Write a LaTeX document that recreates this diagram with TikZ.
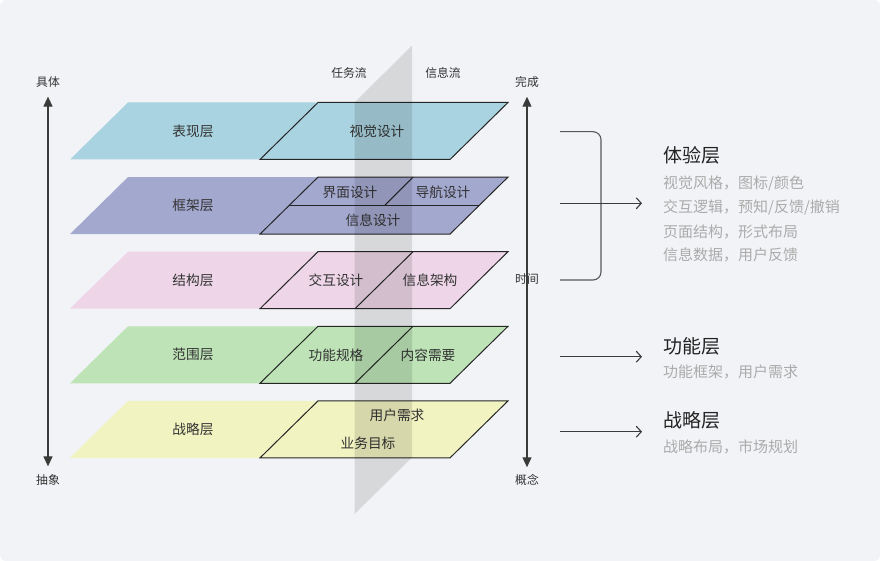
\documentclass[tikz,border=0pt]{standalone}
\usepackage{fontspec}
\setmainfont{Noto Sans CJK SC}
\usepackage{xcolor}
\usepackage{tikz}
\usetikzlibrary{positioning,arrows.meta}

\definecolor{bgcol}{HTML}{F2F3F6}
\definecolor{pblue}{HTML}{A9D3E0}
\definecolor{pviolet}{HTML}{A3A8CF}
\definecolor{ppink}{HTML}{EED6E8}
\definecolor{pgreen}{HTML}{BDE3B6}
\definecolor{pyellow}{HTML}{F1F3C1}
\definecolor{txtcol}{HTML}{333333}
\definecolor{ttlcol}{HTML}{222222}
\definecolor{desccol}{HTML}{ABABAB}
\definecolor{linecol}{HTML}{3A3A3A}

\begin{document}
\begin{tikzpicture}[x=1pt, y=-1pt,
  lbl/.style={font=\fontsize{13.7}{15}\selectfont, text=txtcol, inner sep=1pt},
  axlbl/.style={font=\fontsize{11.8}{13}\selectfont, text=txtcol, inner sep=2pt},
  ttl/.style={font=\fontsize{19}{21}\selectfont, text=ttlcol, anchor=west, inner sep=0pt},
  desc/.style={font=\fontsize{15}{17}\selectfont, text=desccol, anchor=west, inner sep=0pt},
  axis/.style={draw=linecol, line width=1.2pt,
    {Triangle[length=10pt,width=9pt]}-{Triangle[length=10pt,width=9pt]}},
  pointer/.style={draw=linecol, line width=1.1pt, -{Straight Barb[length=5pt,width=11pt]}},
  edge/.style={draw=black!85, line width=1pt}]

  \useasboundingbox (0,0) rectangle (880,561);
  \fill[white] (0,0) rectangle (880,561);
  \fill[bgcol, rounded corners=6pt] (0,0) rectangle (880,561);

  % the five layers
  \foreach \col/\nm/\id [count=\i from 0] in {pblue/表现层/surface, pviolet/框架层/skeleton,
      ppink/结构层/structure, pgreen/范围层/scope, pyellow/战略层/strategy}{
    \pgfmathsetmacro{\ytop}{102.5+74.6*\i}
    \pgfmathsetmacro{\ybot}{\ytop+57}
    \fill[\col] (70,\ybot) -- (128,\ytop) -- (508,\ytop) -- (450,\ybot) -- cycle;
    \draw[edge] (260,\ybot) -- (318,\ytop) -- (508,\ytop) -- (450,\ybot) -- cycle;
    \node[lbl] (\id) at (193,\ytop+28.5) {\nm};
  }

  % splits inside the layers
  \draw[edge] (289,205.6) -- (479,205.6);
  \draw[edge] (413,177.1) -- (384.5,205.6);
  \draw[edge] (413,251.7) -- (355,308.7);
  \draw[edge] (413,326.3) -- (355,383.3);

  \node[lbl] (visual) at (377,131) {视觉设计};
  \node[lbl] (iface) at (350,192) {界面设计};
  \node[lbl] (nav) at (443,192) {导航设计};
  \node[lbl] (infod) at (373,220) {信息设计};
  \node[lbl] (inter) at (336,280) {交互设计};
  \node[lbl] (arch) at (430,280) {信息架构};
  \node[lbl] (spec) at (336,355) {功能规格};
  \node[lbl] (content) at (428,355) {内容需要};
  \node[lbl] (needs) at (397,415) {用户需求};
  \node[lbl] (goals) at (368,443) {业务目标};

  % task / information flow
  \fill[black, opacity=0.11] (354.5,102.5) -- (412,45.5) -- (412,457.5) -- (354.5,514) -- cycle;
  \node[axlbl] (task) at (349,73) {任务流};
  \node[axlbl] (info) at (443,73) {信息流};

  % axes
  \node[axlbl] (concrete) at (48,82) {具体};
  \node[axlbl] (abstract) at (48,480) {抽象};
  \node[axlbl] (done) at (527,82) {完成};
  \node[axlbl] (concept) at (527,480) {概念};
  \draw[axis, shorten <=7pt, shorten >=6pt] (concrete) -- (abstract);
  \draw[axis, shorten <=7pt, shorten >=5pt] (done) -- (concept);
  \node[axlbl] (time) at (527,279) {时间};

  % grouping on the right
  \draw[draw=linecol!85, line width=1.1pt, rounded corners=8pt]
    (560,131.7) -- (601,131.7) -- (601,280) -- (560,280);
  \coordinate (p1) at (560,203.3);
  \coordinate (q1) at (642,203.3);
  \coordinate (p2) at (560,356.7);
  \coordinate (q2) at (642,356.7);
  \coordinate (p3) at (560,431.7);
  \coordinate (q3) at (642,431.7);
  \draw[pointer] (p1) -- (q1);
  \draw[pointer] (p2) -- (q2);
  \draw[pointer] (p3) -- (q3);

  \node[ttl] (exp) at (663,155) {体验层};
  \node[desc] (exp1) at (663,183.3) {视觉风格，图标/颜色};
  \node[desc] (exp2) at (663,207.5) {交互逻辑，预知/反馈/撤销};
  \node[desc] (exp3) at (663,231.5) {页面结构，形式布局};
  \node[desc] (exp4) at (663,255) {信息数据，用户反馈};
  \node[ttl] (func) at (663,346) {功能层};
  \node[desc] (func1) at (663,372) {功能框架，用户需求};
  \node[ttl] (strat) at (663,420) {战略层};
  \node[desc] (strat1) at (663,446.7) {战略布局，市场规划};
\end{tikzpicture}
\end{document}
